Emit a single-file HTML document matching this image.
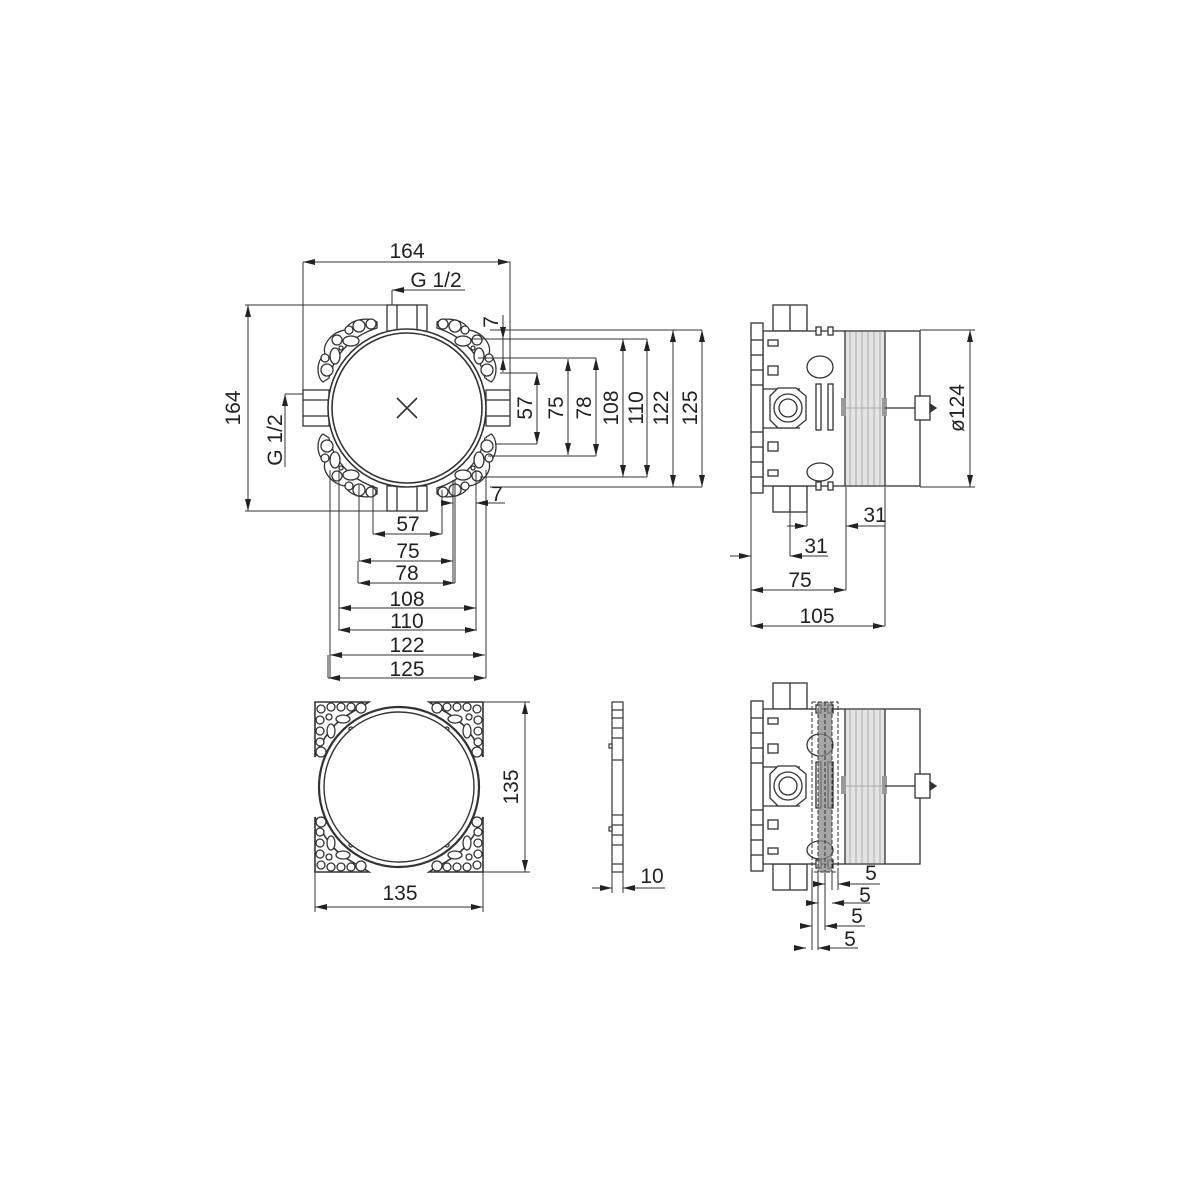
<!DOCTYPE html>
<html><head><meta charset="utf-8"><style>
html,body{margin:0;padding:0;background:#fff}
svg{display:block}
text{font-family:"Liberation Sans",Arial,sans-serif;font-size:21px;fill:#222}
</style></head><body>
<svg width="1200" height="1200" viewBox="0 0 1200 1200" xmlns="http://www.w3.org/2000/svg">
<defs>
<marker id="a" viewBox="0 0 12 6" refX="12" refY="3" markerWidth="12" markerHeight="6" orient="auto-start-reverse" markerUnits="userSpaceOnUse"><path d="M0,0 L12,3 L0,6 Z" fill="#222"/></marker>
<g id="blobTL" fill="#fff" stroke="#333" stroke-width="1.3">
<path d="M-30,-86 C-40,-92 -58,-88 -62,-78 C-75,-76 -85,-64 -82,-54 C-92,-46 -90,-30 -84,-26 L-78,-30 C-72,-55 -55,-72 -30,-80 Z" fill="#fff"/>
<circle cx="-36" cy="-84" r="5"/><circle cx="-48" cy="-82" r="6"/><circle cx="-58" cy="-78" r="4"/>
<ellipse cx="-56" cy="-67" rx="8" ry="5"/><circle cx="-70" cy="-68" r="5"/>
<ellipse cx="-72" cy="-52" rx="5" ry="8"/><circle cx="-82" cy="-50" r="4"/>
<circle cx="-80" cy="-38" r="6"/><circle cx="-66" cy="-60" r="2"/>
</g>
<g id="pblob" fill="#fff" stroke="#333" stroke-width="1.3">
<path d="M-84,-85 L-30,-85 C-40,-78 -60,-70 -70,-55 C-78,-45 -82,-35 -84,-30 Z" fill="#fff" stroke-width="1.6"/>
<circle cx="-78" cy="-78" r="4"/><circle cx="-68" cy="-80" r="4"/><circle cx="-58" cy="-80" r="4"/><circle cx="-48" cy="-80" r="4"/><circle cx="-38" cy="-79" r="5"/>
<circle cx="-79" cy="-67" r="4"/><circle cx="-79" cy="-56" r="4"/><circle cx="-79" cy="-45" r="4"/><circle cx="-78" cy="-35" r="5"/>
<ellipse cx="-56" cy="-68" rx="7" ry="4"/><ellipse cx="-68" cy="-56" rx="4" ry="7"/>
<circle cx="-70" cy="-70" r="3"/><circle cx="-48" cy="-58" r="2"/>
</g>
<g id="side" stroke="#333" stroke-width="1.3" fill="#fff">
<rect x="773" y="305" width="34" height="26"/><line x1="790" y1="305" x2="790" y2="331"/>
<rect x="773" y="486" width="34" height="26"/><line x1="790" y1="486" x2="790" y2="512"/>
<rect x="763" y="331" width="157" height="155"/>
<rect x="751" y="323" width="12" height="170"/>
<line x1="751" y1="340" x2="763" y2="340"/><line x1="751" y1="355" x2="763" y2="355"/><line x1="751" y1="370" x2="763" y2="370"/><line x1="751" y1="385" x2="763" y2="385"/>
<line x1="751" y1="432" x2="763" y2="432"/><line x1="751" y1="447" x2="763" y2="447"/><line x1="751" y1="462" x2="763" y2="462"/><line x1="751" y1="477" x2="763" y2="477"/>
<line x1="763" y1="389" x2="800" y2="389"/><line x1="763" y1="428" x2="800" y2="428"/>
<rect x="768" y="340" width="10" height="6"/><rect x="768" y="366" width="10" height="9"/>
<rect x="768" y="442" width="10" height="9"/><rect x="768" y="470" width="10" height="6"/>
<polygon points="770,396 778,388 796,388 806,396 806,420 796,428 778,428 770,420"/>
<circle cx="788" cy="408" r="14"/><circle cx="788" cy="408" r="9"/>
<ellipse cx="820" cy="367" rx="13" ry="11"/><ellipse cx="820" cy="472" rx="13" ry="9"/>
<rect x="816" y="384" width="5" height="46"/><rect x="828" y="384" width="5" height="46"/>
<rect x="816" y="327" width="5" height="8"/><rect x="828" y="327" width="5" height="8"/>
<rect x="816" y="482" width="5" height="8"/><rect x="828" y="482" width="5" height="8"/>
<rect x="845" y="332" width="40" height="153" fill="#e4e4e4" stroke="none"/>
<g stroke="#aaa" stroke-width="1"><line x1="850" y1="332" x2="850" y2="485"/><line x1="856" y1="332" x2="856" y2="485"/><line x1="862" y1="332" x2="862" y2="485"/><line x1="868" y1="332" x2="868" y2="485"/><line x1="874" y1="332" x2="874" y2="485"/><line x1="880" y1="332" x2="880" y2="485"/><line x1="845" y1="408" x2="885" y2="408"/></g>
<line x1="845" y1="331" x2="845" y2="486"/><line x1="885" y1="331" x2="885" y2="486"/>
<rect x="841" y="398" width="5" height="18" fill="#999" stroke="none"/><rect x="882" y="398" width="5" height="18" fill="#999" stroke="none"/>
<line x1="885" y1="408" x2="915" y2="408"/>
<rect x="915" y="396" width="15" height="24"/>
<path d="M930,404 L936,408 L930,412 Z" fill="#333"/>
</g>
</defs>

<!-- TOP VIEW -->
<g stroke="#333" stroke-width="1.3" fill="#fff">
<rect x="387" y="305" width="40" height="26"/><line x1="397" y1="305" x2="397" y2="331"/><line x1="417" y1="305" x2="417" y2="331"/>
<rect x="387" y="486" width="40" height="25"/><line x1="397" y1="486" x2="397" y2="511"/><line x1="417" y1="486" x2="417" y2="511"/>
<rect x="303" y="390" width="26" height="36"/><line x1="303" y1="400" x2="329" y2="400"/><line x1="303" y1="416" x2="329" y2="416"/>
<rect x="486" y="390" width="24" height="36"/><line x1="486" y1="400" x2="510" y2="400"/><line x1="486" y1="416" x2="510" y2="416"/>
</g>
<g transform="translate(407,408)">
<use href="#blobTL"/><use href="#blobTL" transform="scale(-1,1)"/><use href="#blobTL" transform="scale(1,-1)"/><use href="#blobTL" transform="scale(-1,-1)"/>
<circle r="79" fill="#fff" stroke="#333" stroke-width="1.6"/>
<circle r="75" fill="#fff" stroke="#333" stroke-width="1.6"/>
<path d="M-10,-10 L10,10 M10,-10 L-10,10" stroke="#333" stroke-width="1.6"/>
</g>

<g stroke="#333" stroke-width="1" fill="none">
<!-- 164 horizontal -->
<line x1="303" y1="262" x2="303" y2="390"/><line x1="510" y1="262" x2="510" y2="390"/>
<line x1="303" y1="262" x2="510" y2="262" marker-start="url(#a)" marker-end="url(#a)"/>
<!-- G1/2 top -->
<line x1="392" y1="290" x2="392" y2="305"/><line x1="465" y1="290" x2="392" y2="290" marker-end="url(#a)"/>
<!-- 164 vertical -->
<line x1="245" y1="305" x2="387" y2="305"/><line x1="245" y1="511" x2="427" y2="511"/>
<line x1="248" y1="305" x2="248" y2="511" marker-start="url(#a)" marker-end="url(#a)"/>
<!-- G1/2 left -->
<line x1="285" y1="394" x2="303" y2="394"/><line x1="285" y1="467" x2="285" y2="394" marker-end="url(#a)"/>
<!-- right dims -->
<line x1="490" y1="330" x2="702" y2="330"/><line x1="490" y1="487" x2="702" y2="487"/>
<line x1="470" y1="339" x2="647" y2="339"/><line x1="480" y1="477" x2="647" y2="477"/>
<line x1="478" y1="358" x2="596" y2="358"/><line x1="488" y1="456" x2="596" y2="456"/>
<line x1="500" y1="373" x2="537" y2="373"/><line x1="495" y1="444" x2="537" y2="444"/>
<line x1="537" y1="373" x2="537" y2="444" marker-start="url(#a)" marker-end="url(#a)"/>
<line x1="568" y1="359" x2="568" y2="455" marker-start="url(#a)" marker-end="url(#a)"/>
<line x1="596" y1="358" x2="596" y2="456" marker-start="url(#a)" marker-end="url(#a)"/>
<line x1="623" y1="339" x2="623" y2="477" marker-start="url(#a)" marker-end="url(#a)"/>
<line x1="647" y1="339" x2="647" y2="477" marker-start="url(#a)" marker-end="url(#a)"/>
<line x1="673" y1="330" x2="673" y2="487" marker-start="url(#a)" marker-end="url(#a)"/>
<line x1="702" y1="330" x2="702" y2="487" marker-start="url(#a)" marker-end="url(#a)"/>
<!-- 7 top -->
<line x1="503" y1="315" x2="503" y2="339" marker-end="url(#a)"/><line x1="503" y1="372" x2="503" y2="358" marker-end="url(#a)"/><line x1="503" y1="358" x2="503" y2="338"/>
<!-- bottom dims -->
<line x1="373" y1="485" x2="373" y2="534"/><line x1="442" y1="490" x2="442" y2="534"/>
<line x1="359" y1="485" x2="359" y2="561"/><line x1="453" y1="480" x2="453" y2="583"/>
<line x1="358" y1="561" x2="358" y2="583"/><line x1="455" y1="480" x2="455" y2="583"/>
<line x1="339" y1="470" x2="339" y2="630"/><line x1="476" y1="470" x2="476" y2="630"/>
<line x1="330" y1="470" x2="330" y2="678"/><line x1="486" y1="470" x2="486" y2="678"/>
<line x1="328" y1="655" x2="328" y2="678"/>
<line x1="373" y1="534" x2="442" y2="534" marker-start="url(#a)" marker-end="url(#a)"/>
<line x1="359" y1="561" x2="453" y2="561" marker-start="url(#a)" marker-end="url(#a)"/>
<line x1="358" y1="583" x2="455" y2="583" marker-start="url(#a)" marker-end="url(#a)"/>
<line x1="339" y1="608" x2="476" y2="608" marker-start="url(#a)" marker-end="url(#a)"/>
<line x1="338" y1="630" x2="477" y2="630" marker-start="url(#a)" marker-end="url(#a)"/>
<line x1="330" y1="655" x2="485" y2="655" marker-start="url(#a)" marker-end="url(#a)"/>
<line x1="328" y1="678" x2="486" y2="678" marker-start="url(#a)" marker-end="url(#a)"/>
<!-- 7 bottom -->
<line x1="442" y1="503" x2="453" y2="503" marker-end="url(#a)"/><line x1="505" y1="503" x2="476" y2="503" marker-end="url(#a)"/>
</g>
<text x="407" y="258" text-anchor="middle">164</text>
<text x="436" y="287" text-anchor="middle">G 1/2</text>
<text transform="translate(240,408) rotate(-90)" text-anchor="middle">164</text>
<text transform="translate(282,440) rotate(-90)" text-anchor="middle">G 1/2</text>
<text transform="translate(532,408) rotate(-90)" text-anchor="middle">57</text>
<text transform="translate(563,408) rotate(-90)" text-anchor="middle">75</text>
<text transform="translate(591,408) rotate(-90)" text-anchor="middle">78</text>
<text transform="translate(618,408) rotate(-90)" text-anchor="middle">108</text>
<text transform="translate(643,408) rotate(-90)" text-anchor="middle">110</text>
<text transform="translate(668,408) rotate(-90)" text-anchor="middle">122</text>
<text transform="translate(697,408) rotate(-90)" text-anchor="middle">125</text>
<text transform="translate(498,322) rotate(-90)" text-anchor="middle" font-size="18">7</text>
<text x="497" y="501" text-anchor="middle" font-size="16">7</text>
<text x="408" y="531" text-anchor="middle">57</text>
<text x="408" y="558" text-anchor="middle">75</text>
<text x="407" y="580" text-anchor="middle">78</text>
<text x="407" y="606" text-anchor="middle">108</text>
<text x="407" y="628" text-anchor="middle">110</text>
<text x="407" y="652" text-anchor="middle">122</text>
<text x="407" y="676" text-anchor="middle">125</text>

<!-- SIDE VIEW TOP -->
<use href="#side"/>
<g stroke="#333" stroke-width="1" fill="none">
<line x1="920" y1="330" x2="975" y2="330"/><line x1="920" y1="487" x2="975" y2="487"/>
<line x1="970" y1="330" x2="970" y2="487" marker-start="url(#a)" marker-end="url(#a)"/>
<line x1="807" y1="512" x2="807" y2="526"/><line x1="846" y1="487" x2="846" y2="590"/><line x1="885" y1="487" x2="885" y2="626"/>
<line x1="790" y1="512" x2="790" y2="556"/><line x1="751" y1="493" x2="751" y2="626"/>
<line x1="787" y1="526" x2="807" y2="526" marker-end="url(#a)"/><line x1="885" y1="526" x2="846" y2="526" marker-end="url(#a)"/>
<line x1="730" y1="556" x2="751" y2="556" marker-end="url(#a)"/><line x1="828" y1="556" x2="790" y2="556" marker-end="url(#a)"/>
<line x1="751" y1="590" x2="846" y2="590" marker-start="url(#a)" marker-end="url(#a)"/>
<line x1="751" y1="626" x2="885" y2="626" marker-start="url(#a)" marker-end="url(#a)"/>
</g>
<text transform="translate(964,408) rotate(-90)" text-anchor="middle">ø124</text>
<text x="875" y="522" text-anchor="middle">31</text>
<text x="816" y="553" text-anchor="middle">31</text>
<text x="800" y="587" text-anchor="middle">75</text>
<text x="817" y="623" text-anchor="middle">105</text>

<!-- PLATE -->
<g transform="translate(399,787)">
<rect x="-84" y="-85" width="168" height="170" fill="none" stroke="none"/>
<use href="#pblob"/><use href="#pblob" transform="scale(-1,1)"/><use href="#pblob" transform="scale(1,-1)"/><use href="#pblob" transform="scale(-1,-1)"/>
<circle r="80" fill="none" stroke="#333" stroke-width="2.2"/>
<circle r="75" fill="#fff" stroke="#333" stroke-width="1.4"/>
</g>
<g stroke="#333" stroke-width="1" fill="none">
<line x1="483" y1="702" x2="530" y2="702"/><line x1="483" y1="872" x2="530" y2="872"/>
<line x1="525" y1="702" x2="525" y2="872" marker-start="url(#a)" marker-end="url(#a)"/>
<line x1="315" y1="850" x2="315" y2="912"/><line x1="483" y1="860" x2="483" y2="912"/>
<line x1="315" y1="907" x2="483" y2="907" marker-start="url(#a)" marker-end="url(#a)"/>
</g>
<text transform="translate(518,787) rotate(-90)" text-anchor="middle">135</text>
<text x="400" y="900" text-anchor="middle">135</text>

<!-- THIN PIECE -->
<g stroke="#333" stroke-width="1.2" fill="#fff">
<rect x="612" y="702" width="11" height="170"/>
<line x1="612" y1="710" x2="623" y2="710"/><line x1="612" y1="718" x2="623" y2="718"/><line x1="612" y1="728" x2="623" y2="728"/><line x1="612" y1="738" x2="623" y2="738"/><line x1="612" y1="760" x2="623" y2="760"/>
<line x1="612" y1="815" x2="623" y2="815"/><line x1="612" y1="825" x2="623" y2="825"/><line x1="612" y1="835" x2="623" y2="835"/><line x1="612" y1="845" x2="623" y2="845"/><line x1="612" y1="864" x2="623" y2="864"/>
<rect x="609" y="744" width="3" height="4"/><rect x="609" y="827" width="3" height="4"/>
</g>
<g stroke="#333" stroke-width="1" fill="none">
<line x1="612" y1="872" x2="612" y2="893"/><line x1="623" y1="872" x2="623" y2="893"/>
<line x1="592" y1="888" x2="612" y2="888" marker-end="url(#a)"/><line x1="665" y1="888" x2="623" y2="888" marker-end="url(#a)"/>
</g>
<text x="652" y="883" text-anchor="middle">10</text>

<!-- SIDE VIEW BOTTOM -->
<use href="#side" transform="translate(0,378)"/>
<rect x="818" y="702" width="14" height="170" fill="#888" opacity="0.75"/>
<g stroke="#333" stroke-width="1" fill="none" stroke-dasharray="4,2">
<rect x="812" y="702" width="26" height="170"/>
<line x1="818" y1="702" x2="818" y2="872"/><line x1="825" y1="702" x2="825" y2="872"/><line x1="832" y1="702" x2="832" y2="872"/>
</g>
<g stroke="#333" stroke-width="1" fill="none">
<line x1="812" y1="872" x2="812" y2="950"/><line x1="818" y1="872" x2="818" y2="950"/><line x1="825" y1="872" x2="825" y2="930"/><line x1="832" y1="872" x2="832" y2="890"/><line x1="838" y1="872" x2="838" y2="890"/>
<line x1="815" y1="884" x2="825" y2="884" marker-end="url(#a)"/><line x1="880" y1="884" x2="838" y2="884" marker-end="url(#a)"/>
<line x1="808" y1="903" x2="818" y2="903" marker-end="url(#a)"/><line x1="870" y1="903" x2="832" y2="903" marker-end="url(#a)"/>
<line x1="801" y1="926" x2="812" y2="926" marker-end="url(#a)"/><line x1="865" y1="926" x2="825" y2="926" marker-end="url(#a)"/>
<line x1="794" y1="948" x2="806" y2="948" marker-end="url(#a)"/><line x1="858" y1="948" x2="818" y2="948" marker-end="url(#a)"/>
</g>
<text x="871" y="880" text-anchor="middle">5</text>
<text x="865" y="902" text-anchor="middle">5</text>
<text x="857" y="923" text-anchor="middle">5</text>
<text x="850" y="946" text-anchor="middle">5</text>
</svg>
</body></html>
